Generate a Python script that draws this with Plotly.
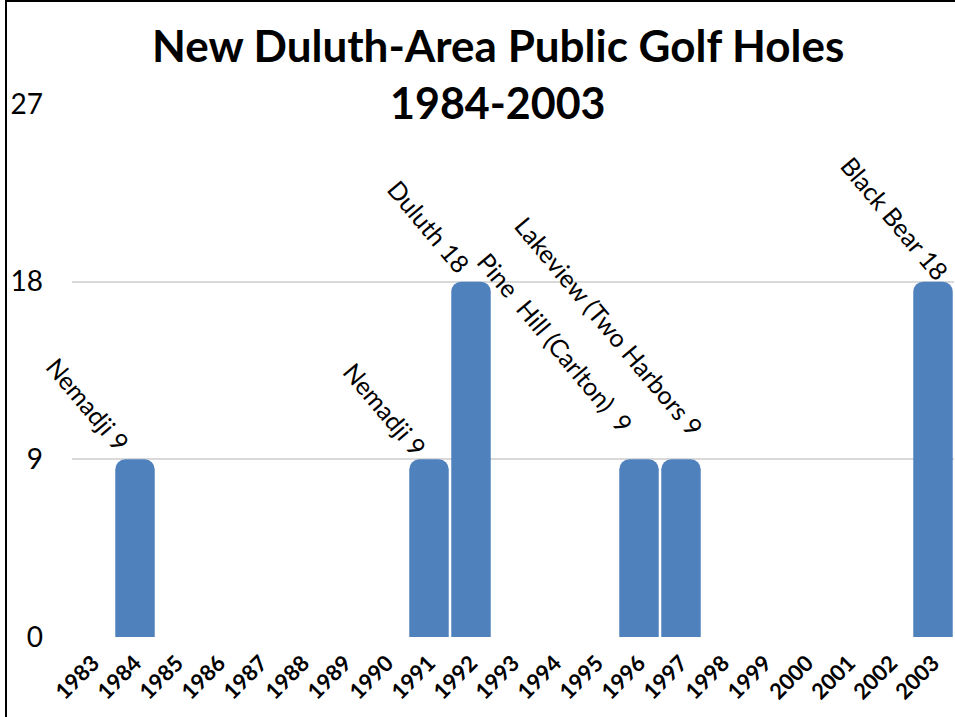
import plotly.graph_objects as go

# ---- data ----
years = ["1983", "1984", "1985", "1986", "1987", "1988", "1989", "1990", "1991", "1992",
         "1993", "1994", "1995", "1996", "1997", "1998", "1999", "2000", "2001", "2002", "2003"]
holes = [0, 9, 0, 0, 0, 0, 0, 0, 9, 18, 0, 0, 0, 9, 9, 0, 0, 0, 0, 0, 18]
label_years = ["1984", "1991", "1992", "1996", "1997", "2003"]
label_names = ["Nemadji", "Nemadji", "Duluth", "Pine\u00a0 Hill (Carlton)\u00a0", "Lakeview (Two Harbors", "Black Bear"]
y_ticks = [0, 9, 18, 27]
title_line1 = "New Duluth-Area Public Golf Holes"
title_line2 = "1984-2003"

# ---- layout constants ----
W, H = 955, 717
L, R, T, B = 72, 1, 104, 80
PW, PH = W - L - R, H - T - B
BLUE = "#4F81BD"
FONT = "Lato"

def px_x(p):  # pixel -> paper x
    return (p - L) / PW

def px_y(p):  # pixel -> paper y
    return (H - B - p) / PH

fig = go.Figure(go.Bar(
    x=years, y=holes,
    marker=dict(color=BLUE, cornerradius=10, line=dict(width=0)),
    hoverinfo="x+y",
))

# pixel offset of each rotated label's centre from (bar centre, bar value)
label_shift = {"1984": (-47, -55), "1991": (-44, -50), "1992": (-42, -56),
               "1996": (-84, -117), "1997": (-72, -133), "2003": (-38, -64)}

annotations = []
for yr, name in zip(label_years, label_names):
    i = years.index(yr)
    v = holes[i]
    dx, dy = label_shift[yr]
    annotations.append(dict(
        x=i, y=v, xref="x", yref="y", text=f"{name} {v}", showarrow=False,
        textangle=50, xanchor="center", yanchor="middle", xshift=dx, yshift=-dy,
        font=dict(family=FONT, size=25, color="black"), borderpad=0,
    ))

annotations.append(dict(
    x=px_x(498), y=px_y(45), xref="paper", yref="paper", text=f"<b>{title_line1}</b>",
    showarrow=False, xanchor="center", yanchor="middle",
    font=dict(family=FONT, size=44, color="black"),
))
annotations.append(dict(
    x=px_x(498), y=px_y(103), xref="paper", yref="paper", text=f"<b>{title_line2}</b>",
    showarrow=False, xanchor="center", yanchor="middle", bgcolor="white", borderpad=4,
    font=dict(family=FONT, size=43, color="black"),
))

shapes = [
    dict(type="line", xref="paper", yref="paper", x0=px_x(6), x1=px_x(6), y0=px_y(0), y1=px_y(H + 5),
         line=dict(color="black", width=2)),
    dict(type="line", xref="paper", yref="paper", x0=px_x(5), x1=px_x(W + 5), y0=px_y(1), y1=px_y(1),
         line=dict(color="black", width=2)),
]

fig.update_layout(
    width=W, height=H,
    margin=dict(l=L, r=R, t=T, b=B, pad=0),
    paper_bgcolor="white", plot_bgcolor="white",
    bargap=0.06,
    showlegend=False,
    annotations=annotations,
    shapes=shapes,
    font=dict(family=FONT, color="black"),
)
fig.update_xaxes(
    type="category", range=[-0.5, len(years) - 0.5], tickangle=-45, showgrid=False,
    zeroline=False, showline=False, ticks="", ticklabelstandoff=8,
    tickfont=dict(family=FONT, size=22, color="black", weight="bold"),
)
fig.update_yaxes(
    range=[0, 27], tickvals=y_ticks, ticktext=[str(t) for t in y_ticks],
    showgrid=True, gridcolor="#D9D9D9", gridwidth=2, zeroline=False, showline=False,
    ticks="", ticklabelstandoff=28, tickfont=dict(family=FONT, size=28, color="black"),
)

fig.write_html(
    "out.html",
    config={"displayModeBar": False},
    post_script="document.body.style.margin='0';document.body.style.overflow='hidden';",
)
